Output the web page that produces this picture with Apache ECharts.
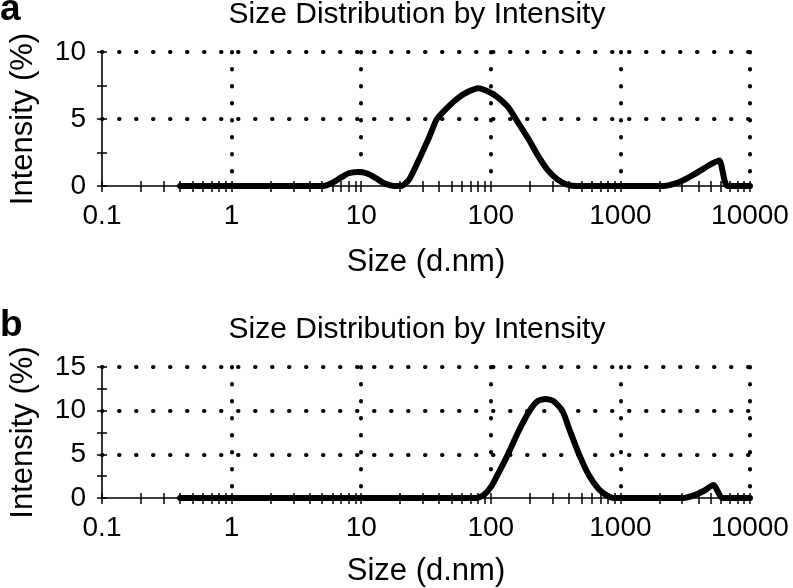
<!DOCTYPE html>
<html>
<head>
<meta charset="utf-8">
<script src="https://cdn.jsdelivr.net/npm/echarts@6/dist/echarts.min.js"></script>
<style>html,body{margin:0;padding:0;background:#fff}#c{width:793px;height:588px}</style>
</head>
<body>
<div id="c"></div>
<script>
// ---- data (sizes in d.nm, intensity in %) ----
var titleText = 'Size Distribution by Intensity';
var xName = 'Size (d.nm)';
var yName = 'Intensity (%)';
var xTickLabels = ['0.1', '1', '10', '100', '1000', '10000'];
var decadeStarts = [0.1, 1, 10, 100, 1000];

var sizesA = [0.4, 1, 2, 4, 5.1, 5.9, 6.9, 8.0, 9.4, 11.0, 12.9, 15.1, 18.0,
  20.4, 23.5, 28.0, 33.3, 38.4, 47.3, 56.4, 67.3, 80.2, 95.5,
  113.8, 135.7, 156, 193, 230, 274, 326, 389, 464,
  1000, 2173, 2588, 3085, 3679, 4385, 5045, 5805, 6685, 10000];
var intensityA = [0, 0, 0, 0, 0, 0.2, 0.6, 0.95, 1.05, 0.95, 0.6, 0.2, 0,
  0, 0.5, 2.0, 3.6, 5.0, 5.95, 6.6, 7.05, 7.3, 7.05,
  6.6, 5.9, 5.0, 3.6, 2.3, 1.2, 0.5, 0.1, 0,
  0, 0, 0.15, 0.45, 0.85, 1.3, 1.65, 1.9, 0, 0];

var sizesB = [0.4, 1, 10, 77.4, 87.5, 100.7, 115.9, 135.7, 161.9, 199.6, 229.8, 264.4, 304.3, 356.2,
  410, 480, 572, 682, 785, 888, 1000, 2000, 3080, 3679, 4385, 5224, 6120, 10000];
var intensityB = [0, 0, 0, 0, 0.3, 1.3, 3.0, 5.0, 7.5, 10.0, 11.1, 11.35, 11.1, 10.0,
  7.6, 5.0, 2.6, 1.0, 0.3, 0, 0, 0, 0, 0.3, 0.8, 1.5, 0, 0];

var yMaxA = 10, yMaxB = 15;

// ---- build ----
var FONT = '"Liberation Sans", Arial, sans-serif';
var allTicks = [];
decadeStarts.forEach(function (d) { for (var m = 1; m <= 9; m++) allTicks.push(Math.log10(d * m)); });
allTicks.push(4);

function pts(sz, v) { return sz.map(function (s, i) { return [Math.log10(s), v[i]]; }); }

var dotted = { color: '#000', width: 4, type: [0.5, 16.5], cap: 'round' };
var tickLine = { color: '#000', width: 1.5 };

function xAxes(gi) {
  return [
    { type: 'value', gridIndex: gi, min: -1, max: 4, interval: 1, position: 'bottom',
      axisLine: { show: true, onZero: false, lineStyle: { color: '#000', width: 1.6 } },
      axisTick: { show: false },
      axisLabel: { color: '#000', fontSize: 28, fontFamily: FONT, margin: 16,
        formatter: function (v) { return xTickLabels[Math.round(v) + 1]; } },
      splitLine: { show: true, showMinLine: false, lineStyle: dotted },
      name: xName, nameLocation: 'middle', nameGap: gi === 0 ? 61 : 58,
      nameTextStyle: { color: '#000', fontSize: 31, fontFamily: FONT } },
    { type: 'value', gridIndex: gi, min: -1, max: 4, position: 'bottom',
      axisLine: { show: false, onZero: false }, axisLabel: { show: false }, splitLine: { show: false },
      axisTick: { show: true, inside: false, length: 6, customValues: allTicks, lineStyle: tickLine } },
    { type: 'value', gridIndex: gi, min: -1, max: 4, position: 'bottom',
      axisLine: { show: false, onZero: false }, axisLabel: { show: false }, splitLine: { show: false },
      axisTick: { show: true, inside: true, length: 5, customValues: allTicks, lineStyle: tickLine } }
  ];
}
function yAxes(gi, max) {
  return [
    { type: 'value', gridIndex: gi, min: 0, max: max, interval: 5, position: 'left',
      axisLine: { show: true, onZero: false, lineStyle: { color: '#000', width: 1.6 } },
      axisTick: { show: false },
      axisLabel: { color: '#000', fontSize: 28, fontFamily: FONT, margin: 16 },
      splitLine: { show: true, showMinLine: false, lineStyle: dotted },
      name: yName, nameLocation: 'middle', nameGap: 63, nameRotate: 90,
      nameTextStyle: { color: '#000', fontSize: 31, fontFamily: FONT } },
    { type: 'value', gridIndex: gi, min: 0, max: max, interval: 2.5, position: 'left',
      axisLine: { show: false, onZero: false }, axisLabel: { show: false }, splitLine: { show: false },
      axisTick: { show: true, inside: false, length: 5, lineStyle: tickLine } },
    { type: 'value', gridIndex: gi, min: 0, max: max, interval: 2.5, position: 'left',
      axisLine: { show: false, onZero: false }, axisLabel: { show: false }, splitLine: { show: false },
      axisTick: { show: true, inside: true, length: 5, lineStyle: tickLine } }
  ];
}

function txt(t, x, y, font, align) {
  return { type: 'text', x: x, y: y, silent: true,
    style: { text: t, font: font, fill: '#000', textAlign: align, align: align,
      textVerticalAlign: 'middle', verticalAlign: 'middle' } };
}

var chart = echarts.init(document.getElementById('c'), null, { renderer: 'canvas' });
chart.setOption({
  animation: false,
  backgroundColor: '#fff',
  grid: [
    { left: 94, width: 656, top: 52, height: 134 },
    { left: 94, width: 656, top: 367, height: 133 }
  ],
  xAxis: xAxes(0).concat(xAxes(1)),
  yAxis: yAxes(0, yMaxA).concat(yAxes(1, yMaxB)),
  graphic: [
    txt('a', 0, 9.5, 'bold 37px ' + FONT, 'left'),
    txt('b', 0, 325.5, 'bold 37px ' + FONT, 'left'),
    txt(titleText, 417, 15, '30px ' + FONT, 'center'),
    txt(titleText, 417, 330, '30px ' + FONT, 'center')
  ],
  series: [
    { type: 'line', xAxisIndex: 0, yAxisIndex: 0, data: pts(sizesA, intensityA),
      showSymbol: false, smooth: 0.2, clip: false,
      lineStyle: { color: '#000', width: 6, join: 'round', cap: 'round' } },
    { type: 'line', xAxisIndex: 3, yAxisIndex: 3, data: pts(sizesB, intensityB),
      showSymbol: false, smooth: 0.2, clip: false,
      lineStyle: { color: '#000', width: 6, join: 'round', cap: 'round' } }
  ]
});
</script>
</body>
</html>
